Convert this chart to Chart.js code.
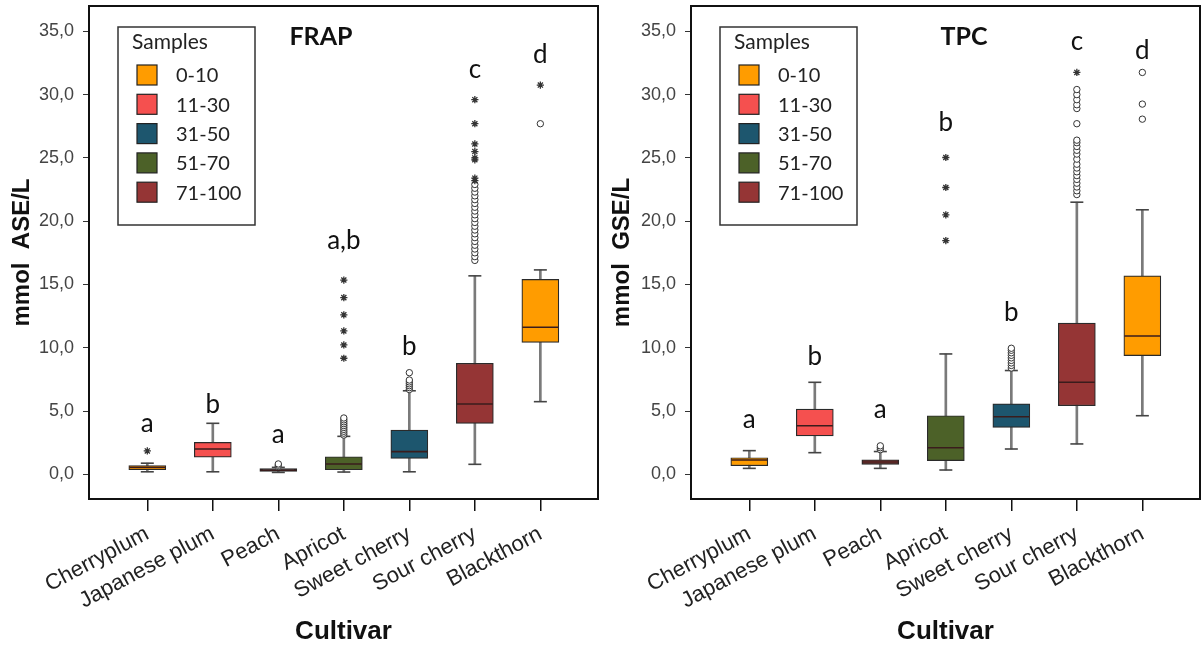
<!DOCTYPE html>
<html><head><meta charset="utf-8">
<script src="https://cdn.jsdelivr.net/npm/chart.js@4.4.0/dist/chart.umd.min.js"></script>
<style>
html,body{margin:0;padding:0;background:#fff;overflow:hidden;}
#wrap{position:relative;width:1203px;height:648px;background:#fff;}
.pane{position:absolute;top:0;height:648px;}
#p1{left:0;width:600px;} #p2{left:600px;width:603px;}
</style></head><body>
<div id="wrap"><div class="pane" id="p1"><canvas id="c1"></canvas></div><div class="pane" id="p2"><canvas id="c2"></canvas></div></div>
<script>
// ---------- shared ----------
const cultivars = ['Cherryplum', 'Japanese plum', 'Peach', 'Apricot', 'Sweet cherry', 'Sour cherry', 'Blackthorn'];
const sampleGroups = ['0-10', '11-30', '31-50', '51-70', '71-100'];
const yTickValues = [0, 5, 10, 15, 20, 25, 30, 35];

// ---------- FRAP (mmol ASE/L) ----------
const frapMin = [0.20, 0.20, 0.15, 0.18, 0.20, 0.79, 5.74];
const frapQ1  = [0.36, 1.36, 0.22, 0.36, 1.26, 4.03, 10.43];
const frapMed = [0.55, 2.00, 0.32, 0.81, 1.79, 5.56, 11.62];
const frapQ3  = [0.70, 2.52, 0.45, 1.39, 3.50, 8.77, 15.40];
const frapMax = [0.88, 4.03, 0.55, 3.00, 6.60, 15.68, 16.15];
const frapCircles = [
  [],
  [],
  [0.62, 0.72, 0.82],
  [3.10, 3.25, 3.40, 3.55, 3.70, 3.85, 4.00, 4.15, 4.30, 4.45],
  [6.70, 6.85, 7.00, 7.15, 7.30, 7.45, 8.03],
  [16.9, 17.2, 17.5, 17.8, 18.1, 18.4, 18.7, 19.0, 19.3, 19.6, 19.9, 20.2, 20.5, 20.8, 21.1, 21.4, 21.7, 22.0, 22.3, 22.6, 22.9],
  [27.7]
];
const frapStars = [
  [1.85],
  [],
  [],
  [9.17, 10.22, 11.33, 12.60, 13.96, 15.35],
  [],
  [23.2, 23.4, 24.85, 25.0, 25.5, 26.1, 27.7, 29.6],
  [30.75]
];
const frapLetters = ['a', 'b', 'a', 'a,b', 'b', 'c', 'd'];
const frapLetterAt = [4.0, 5.5, 3.1, 18.5, 10.1, 32.0, 33.15];

// ---------- TPC (mmol GSE/L) ----------
const tpcMin = [0.47, 1.71, 0.47, 0.34, 2.00, 2.40, 4.63];
const tpcQ1  = [0.68, 3.03, 0.79, 1.08, 3.71, 5.42, 9.38];
const tpcMed = [1.13, 3.84, 0.97, 2.10, 4.55, 7.27, 10.93];
const tpcQ3  = [1.31, 5.16, 1.15, 4.63, 5.56, 11.94, 15.68];
const tpcMax = [1.87, 7.27, 1.80, 9.51, 8.20, 21.50, 20.90];
const tpcCircles = [
  [],
  [],
  [1.95, 2.10, 2.25],
  [],
  [8.4, 8.6, 8.8, 9.0, 9.2, 9.4, 9.6, 9.8, 9.96],
  [22.1, 22.4, 22.7, 23.0, 23.3, 23.6, 23.9, 24.2, 24.5, 24.9, 25.3, 25.6, 25.9, 26.2, 26.4, 27.7, 28.9, 29.2, 29.6, 30.0, 30.4],
  [28.06, 29.25, 31.75]
];
const tpcStars = [
  [],
  [],
  [],
  [18.47, 20.50, 22.66, 25.03],
  [],
  [31.75],
  []
];
const tpcLetters = ['a', 'b', 'a', 'b', 'b', 'c', 'd'];
const tpcLetterAt = [4.3, 9.3, 5.1, 27.8, 12.8, 34.2, 33.5];

// ---------- styles ----------
const groupColors = ['#FF9C00', '#F5504F', '#1D566E', '#4C6128', '#953535'];
const frapBoxColors = ['#FF9C00', '#F5504F', '#1E1E1E', '#4C6128', '#1D566E', '#953535', '#FF9C00'];
const tpcBoxColors  = ['#FF9C00', '#F5504F', '#B0433F', '#4C6128', '#1D566E', '#953535', '#FF9C00'];
const frapBoxBorders = [1.2, 1.2, 2.5, 1.2, 1.2, 1.2, 1.2];
const tpcBoxBorders  = [1.2, 1.2, 1.4, 1.2, 1.2, 1.2, 1.2];

const extrasPlugin = {
  id: 'boxExtras',
  afterDraw(chart) {
    const o = chart.options.plugins.boxExtras;
    const {ctx, chartArea: a} = chart;
    const xs = chart.scales.x, ys = chart.scales.y;
    ctx.save();
    // frame
    ctx.strokeStyle = '#111';
    ctx.lineWidth = 2;
    ctx.strokeRect(a.left, a.top, a.right - a.left, a.bottom - a.top);
    // panel title
    ctx.fillStyle = '#111';
    ctx.font = 'bold 25px Lato, "Open Sans", sans-serif';
    ctx.textAlign = 'center';
    ctx.textBaseline = 'middle';
    ctx.fillText(o.title, a.left + o.titleDx, a.top + 31);
    // significance letters
    ctx.font = '26px Lato, "Open Sans", sans-serif';
    o.letters.forEach((t, i) => {
      ctx.fillText(t, xs.getPixelForValue(i), ys.getPixelForValue(o.letterAt[i]));
    });
    // legend
    const lx = a.left + 29, ly = a.top + 21, lw = 137, lh = 198;
    ctx.fillStyle = '#fff';
    ctx.fillRect(lx, ly, lw, lh);
    ctx.strokeStyle = '#333';
    ctx.lineWidth = 1.5;
    ctx.strokeRect(lx, ly, lw, lh);
    ctx.fillStyle = '#222';
    ctx.textAlign = 'left';
    ctx.font = '21px Lato, "Open Sans", sans-serif';
    ctx.fillText('Samples', lx + 14, ly + 15);
    ctx.font = '20px Lato, "Open Sans", sans-serif';
    sampleGroups.forEach((g, i) => {
      const cy = ly + 48 + i * 29.3;
      ctx.fillStyle = groupColors[i];
      ctx.fillRect(lx + 19, cy - 10, 20, 20);
      ctx.strokeStyle = '#222';
      ctx.lineWidth = 1.2;
      ctx.strokeRect(lx + 19, cy - 10, 20, 20);
      ctx.fillStyle = '#222';
      ctx.fillText(g, lx + 58, cy + 1);
    });
    ctx.restore();
  }
};

function toPoints(arr) { return arr.map((v, i) => ({x: i, y: v})); }
function flatPoints(lists) { return lists.flatMap((vals, i) => vals.map(v => ({x: i, y: v}))); }

function makeChart(id, d) {
  const datasets = [
    {type: 'bar', label: 'whisker', data: cultivars.map((_, i) => ({x: i, y: [d.min[i], d.max[i]]})),
     backgroundColor: '#7a7a7a', barThickness: 2, grouped: false, order: 6},
    {type: 'bar', label: 'box', data: cultivars.map((_, i) => ({x: i, y: [d.q1[i], d.q3[i]]})),
     backgroundColor: d.colors, borderColor: '#2a2a2a', borderWidth: d.borders, borderSkipped: false,
     barThickness: 37, grouped: false, order: 5},
    {type: 'scatter', label: 'median', data: toPoints(d.med), pointStyle: 'line', pointRadius: 18,
     borderColor: '#3a1c1c', pointBorderWidth: 1.6, order: 4},
    {type: 'scatter', label: 'caps', data: toPoints(d.min).concat(toPoints(d.max)), pointStyle: 'line',
     pointRadius: 6.5, borderColor: '#444', pointBorderWidth: 1.6, order: 3},
    {type: 'scatter', label: 'outliers', data: flatPoints(d.circles), pointStyle: 'circle', pointRadius: 3.2,
     backgroundColor: '#fff', borderColor: '#333', pointBorderWidth: 1, order: 2},
    {type: 'scatter', label: 'extremes', data: flatPoints(d.stars), pointStyle: 'star', pointRadius: 3.6,
     borderColor: '#333', pointBorderWidth: 1.3, order: 1}
  ];
  return new Chart(document.getElementById(id), {
    type: 'bar',
    data: {datasets},
    options: {
      responsive: true, maintainAspectRatio: false, animation: false,
      layout: {autoPadding: false, padding: {left: 0, right: d.padRight, top: 6, bottom: 0}},
      plugins: {legend: {display: false}, tooltip: {enabled: false},
        boxExtras: {title: d.title, titleDx: d.titleDx, letters: d.letters, letterAt: d.letterAt}},
      scales: {
        x: {type: 'linear', min: -0.89, max: 6.88, offset: false,
          afterBuildTicks: s => { s.ticks = cultivars.map((_, i) => ({value: i})); },
          afterFit: s => { s.height = 149; s.paddingLeft = 0; s.paddingRight = 0; },
          ticks: {callback: v => cultivars[v], autoSkip: false, minRotation: 28, maxRotation: 28,
            color: '#222', font: {family: '"Liberation Sans", Arial, sans-serif', size: 22}, padding: 10},
          grid: {offset: false, drawOnChartArea: false, drawTicks: true, tickLength: 12, color: '#111', lineWidth: 1.5},
          border: {display: false},
          title: {display: true, text: 'Cultivar', color: '#111',
            font: {family: '"Liberation Sans", Arial, sans-serif', size: 26, weight: 'bold'},
            padding: {top: 0, bottom: 1}}
        },
        y: {type: 'linear', min: -1.95, max: 37.0,
          afterBuildTicks: s => { s.ticks = yTickValues.map(v => ({value: v})); },
          afterFit: s => { s.width = d.yWidth; s.paddingTop = 0; s.paddingBottom = 0; },
          ticks: {callback: v => v.toFixed(1).replace('.', ','), color: '#444',
            font: {family: '"Liberation Sans", Arial, sans-serif', size: 18}, padding: 9},
          grid: {offset: false, drawOnChartArea: false, drawTicks: true, tickLength: 6, color: '#333', lineWidth: 1},
          border: {display: false},
          title: {display: true, text: d.yTitle, color: '#111',
            font: {family: '"Liberation Sans", Arial, sans-serif', size: 24, weight: 'bold'},
            padding: {top: 8, bottom: 0}}
        }
      }
    },
    plugins: [extrasPlugin]
  });
}

makeChart('c1', {min: frapMin, q1: frapQ1, med: frapMed, q3: frapQ3, max: frapMax,
  circles: frapCircles, stars: frapStars, colors: frapBoxColors, borders: frapBoxBorders,
  letters: frapLetters, letterAt: frapLetterAt,
  title: 'FRAP', titleDx: 232, yTitle: 'mmol  ASE/L', yWidth: 89, padRight: 2});
makeChart('c2', {min: tpcMin, q1: tpcQ1, med: tpcMed, q3: tpcQ3, max: tpcMax,
  circles: tpcCircles, stars: tpcStars, colors: tpcBoxColors, borders: tpcBoxBorders,
  letters: tpcLetters, letterAt: tpcLetterAt,
  title: 'TPC', titleDx: 273, yTitle: 'mmol  GSE/L', yWidth: 91, padRight: 3});
</script>
</body></html>
